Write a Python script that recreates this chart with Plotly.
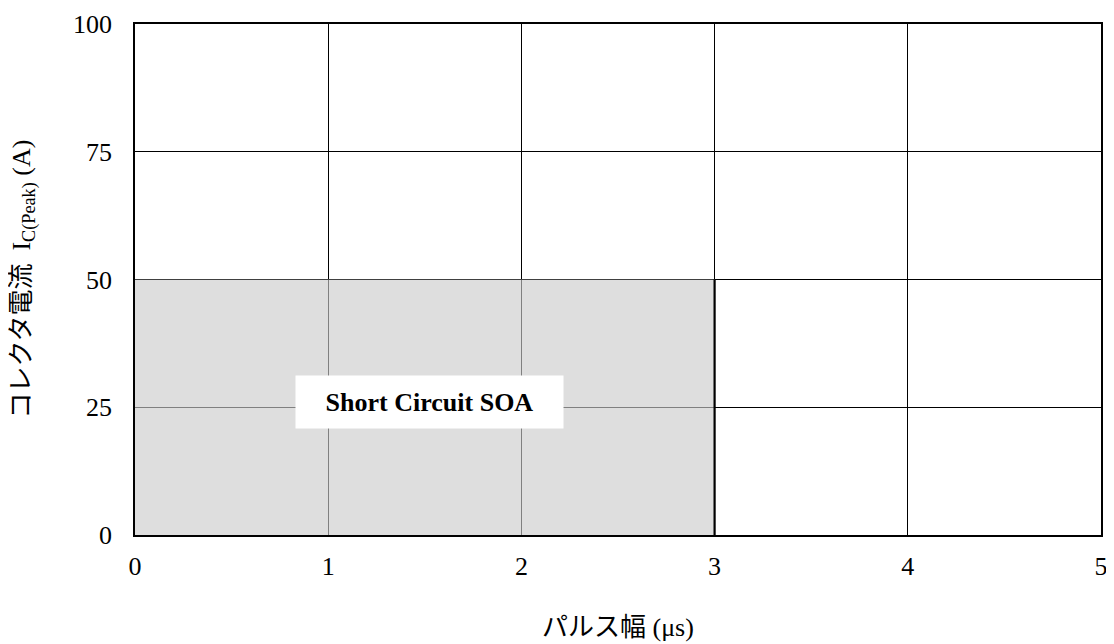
import plotly.graph_objects as go

# Data
soa_x = [0, 0, 3, 3]          # pulse width (µs) outline of SOA region
soa_y = [0, 50, 50, 0]        # collector current (A)
limit_x = [3, 3]
limit_y = [0, 50]
x_ticks = [0, 1, 2, 3, 4, 5]
y_ticks = [0, 25, 50, 75, 100]
label_text = "Short Circuit SOA"
label_pos = (1.524, 26)
x_title = "パルス幅 (μs)"
y_title = "コレクタ電流  I<sub>C(Peak)</sub> (A)"

FONT = "Liberation Serif, Noto Sans CJK JP, serif"
FS = 26

fig = go.Figure()
fig.add_trace(go.Scatter(
    x=soa_x, y=soa_y, mode="lines", fill="toself",
    fillcolor="rgba(203,203,203,0.63)", line=dict(width=0),
    hoverinfo="skip", showlegend=False))
fig.add_trace(go.Scatter(
    x=limit_x, y=limit_y, mode="lines",
    line=dict(color="black", width=2.2), showlegend=False))

fig.add_annotation(
    x=label_pos[0], y=label_pos[1], text="<b>" + label_text + "</b>",
    showarrow=False, font=dict(family=FONT, size=FS, color="black"),
    bgcolor="white", borderpad=11, width=245, height=30,
    xanchor="center", yanchor="middle")

# Axis titles
fig.add_annotation(
    x=0.5, y=0, xref="paper", yref="paper", text=x_title, showarrow=False,
    xanchor="center", yanchor="middle", yshift=-92,
    font=dict(family=FONT, size=FS, color="black"))
fig.add_annotation(
    x=0, y=0.5, xref="paper", yref="paper", text=y_title, showarrow=False,
    xanchor="center", yanchor="middle", xshift=-112, textangle=-90,
    font=dict(family=FONT, size=FS, color="black"))

fig.update_xaxes(
    range=[0, 5], tickvals=x_ticks, ticktext=[str(v) for v in x_ticks],
    showgrid=True, gridcolor="black", gridwidth=1,
    showline=True, linecolor="black", linewidth=1.7, mirror=True,
    zeroline=False, ticks="", layer="below traces",
    tickfont=dict(family=FONT, size=FS, color="black"),
    ticklabelstandoff=7)
fig.update_yaxes(
    range=[0, 100], tickvals=y_ticks, ticktext=[str(v) for v in y_ticks],
    showgrid=True, gridcolor="black", gridwidth=1,
    showline=True, linecolor="black", linewidth=1.7, mirror=True,
    zeroline=False, ticks="", layer="below traces",
    tickfont=dict(family=FONT, size=FS, color="black"),
    ticklabelstandoff=16)

fig.update_layout(
    width=1100, height=636,
    margin=dict(l=127, r=7, t=16, b=109, autoexpand=False),
    plot_bgcolor="white", paper_bgcolor="white",
    font=dict(family=FONT, color="black"))

fig.write_html("out.html")
